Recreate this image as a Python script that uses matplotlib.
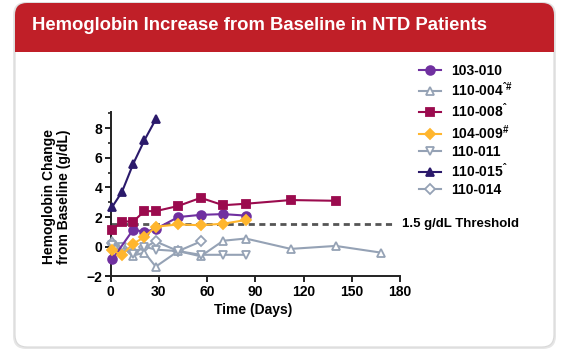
import matplotlib
matplotlib.use('Agg')
import matplotlib.pyplot as plt
from matplotlib.patches import FancyBboxPatch, Rectangle
from matplotlib.transforms import IdentityTransform
from matplotlib.ticker import MultipleLocator

plt.rcParams['font.family'] = ['Liberation Sans', 'DejaVu Sans']
plt.rcParams['font.weight'] = 'bold'
plt.rcParams['mathtext.fontset'] = 'custom'
plt.rcParams['mathtext.rm'] = 'Liberation Sans:bold'
plt.rcParams['mathtext.bf'] = 'Liberation Sans:bold'
plt.rcParams['mathtext.default'] = 'bf'

title = 'Hemoglobin Increase from Baseline in NTD Patients'

# patient series (days, Hb change g/dL)
days_103_010 = [1, 14, 21, 28, 42, 56, 70, 84]
hb_103_010 = [-0.85, 1.15, 1.0, 1.2, 2.0, 2.15, 2.2, 2.1]

days_110_004 = [1, 7, 14, 21, 28, 42, 56, 70, 84, 112, 140, 168]
hb_110_004 = [0.4, 0.0, -0.6, -0.4, -1.35, -0.3, -0.65, 0.4, 0.55, -0.15, 0.05, -0.4]

days_110_008 = [1, 7, 14, 21, 28, 42, 56, 70, 84, 112, 140]
hb_110_008 = [1.15, 1.7, 1.7, 2.4, 2.4, 2.75, 3.3, 2.8, 2.9, 3.15, 3.1]

days_104_009 = [1, 7, 14, 21, 28, 42, 56, 70, 84]
hb_104_009 = [-0.25, -0.55, 0.2, 0.65, 1.35, 1.5, 1.45, 1.55, 1.8]

days_110_011 = [1, 7, 14, 21, 28, 42, 56, 70, 84]
hb_110_011 = [0.1, 0.0, -0.5, 0.0, -0.2, -0.3, -0.55, -0.55, -0.55]

days_110_015 = [1, 7, 14, 21, 28]
hb_110_015 = [2.7, 3.7, 5.6, 7.2, 8.6]

days_110_014 = [1, 7, 14, 21, 28, 42, 56]
hb_110_014 = [0.25, -0.1, -0.35, -0.05, 0.35, -0.3, 0.35]

threshold = 1.5
threshold_end = 175

fig = plt.figure(figsize=(5.68, 3.55), dpi=100)
fig.patch.set_facecolor('white')

# card background
px = IdentityTransform()
shadow = FancyBboxPatch((13, 6), 543, 347, boxstyle='round,pad=0,rounding_size=13',
                        transform=px, facecolor='#e6e6e6', edgecolor='none', zorder=-3)
card = FancyBboxPatch((15, 8), 539, 344, boxstyle='round,pad=0,rounding_size=12',
                      transform=px, facecolor='white', edgecolor='#d8d8d8', lw=0.8, zorder=-2)
header = FancyBboxPatch((15, 303), 539, 49, boxstyle='round,pad=0,rounding_size=12',
                        transform=px, facecolor='#c01f28', edgecolor='none', zorder=-1)
header_sq = Rectangle((15, 303), 539, 14, transform=px, facecolor='#c01f28',
                      edgecolor='none', zorder=-1)
for p in (shadow, card, header, header_sq):
    fig.add_artist(p)
fig.text(260 / 568, 330 / 355, title, color='white', fontsize=13.3, fontweight='bold',
         ha='center', va='center')

ax = fig.add_axes([105.9 / 568, 74.3 / 355, 294.1 / 568, 168.7 / 355])
ax.patch.set_alpha(0)

ax.plot([0, threshold_end], [threshold, threshold], color='#555555', lw=2,
        ls=(0, (2.2, 1.6)), zorder=1)

grey = '#95a2b5'
series = [
    ('103-010', days_103_010, hb_103_010, dict(color='#7030a0', marker='o', mfc='#7030a0'), 6),
    ('110-004$^{\u02c6\\#}$', days_110_004, hb_110_004, dict(color=grey, marker='^', mfc='white'), 3),
    ('110-008$^{\u02c6}$', days_110_008, hb_110_008, dict(color='#9b0b4e', marker='s', mfc='#9b0b4e'), 7),
    ('104-009$^{\\#}$', days_104_009, hb_104_009, dict(color='#ffb62e', marker='D', mfc='#ffb62e'), 6.5),
    ('110-011', days_110_011, hb_110_011, dict(color=grey, marker='v', mfc='white'), 3),
    ('110-015$^{\u02c6}$', days_110_015, hb_110_015, dict(color='#2b1a6b', marker='^', mfc='#2b1a6b'), 8),
    ('110-014', days_110_014, hb_110_014, dict(color=grey, marker='D', mfc='white'), 2),
]
handles = []
for label, d, v, st, z in series:
    ms = 5.2 if st['marker'] == 'D' else 6.3
    h, = ax.plot(d, v, lw=1.5, ms=ms, mec=st['color'], mew=1.3, label=label, zorder=z, **st)
    handles.append(h)

ax.text(181, threshold, '1.5 g/dL Threshold', fontsize=9.5, fontweight='bold',
        va='center', ha='left', clip_on=False)

ax.set_xlim(-3, 180)
ax.set_ylim(-2.3, 9.1)
ax.spines['left'].set_position(('data', 0))
ax.spines['bottom'].set_position(('data', -2))
ax.spines['top'].set_visible(False)
ax.spines['right'].set_visible(False)
for s in ('left', 'bottom'):
    ax.spines[s].set_linewidth(1.4)
    ax.spines[s].set_color('#222222')
ax.set_xticks(range(0, 181, 30))
ax.set_yticks(range(-2, 9, 2))
ax.yaxis.set_minor_locator(MultipleLocator(1))
ax.tick_params(axis='both', which='major', length=4, width=1.4, labelsize=10,
               color='#222222', pad=2)
ax.tick_params(axis='y', which='minor', length=2.5, width=1.2, color='#222222')
for lbl in ax.get_xticklabels() + ax.get_yticklabels():
    lbl.set_fontweight('bold')

ax.set_xlabel('Time (Days)', fontsize=10, fontweight='bold', labelpad=3)
ax.set_ylabel('Hemoglobin Change\nfrom Baseline (g/dL)', fontsize=10, fontweight='bold',
              linespacing=1.1)
ax.yaxis.set_label_coords(-0.12, 0.5)

fig.legend(handles=handles, loc='upper left', bbox_to_anchor=(419 / 568, 291 / 355),
           frameon=False, prop={'weight': 'bold', 'size': 10},
           handlelength=1.6, handletextpad=0.7, labelspacing=0.22, borderpad=0,
           borderaxespad=0)

fig.savefig('out.png', dpi=100)
